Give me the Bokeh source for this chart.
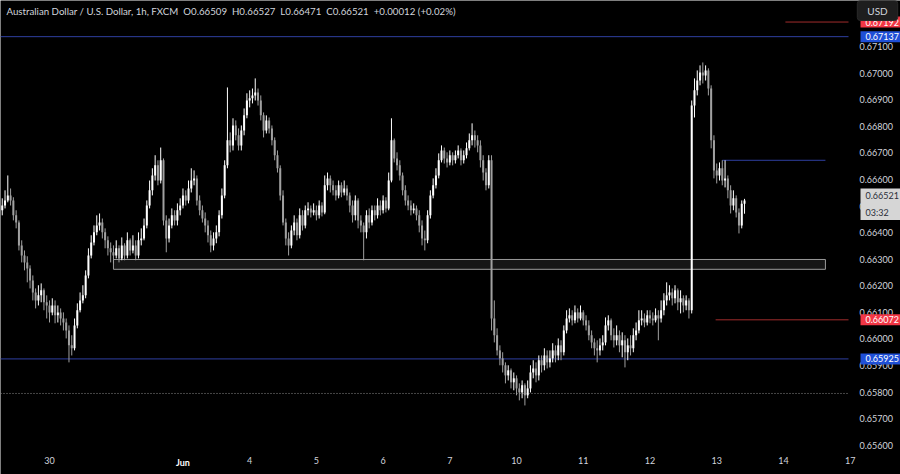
from bokeh.plotting import figure
from bokeh.models import Range1d, FixedTicker, PrintfTickFormatter, Label, ColumnDataSource
from bokeh.embed import file_html
from bokeh.resources import INLINE

# ---------------- data (AUD/USD 1h, prices in 1e-5 units) ----------------
first_bar = 7          # bar index of first visible candle (May 30 00:00 = 24)
first_open = 66484
close_pts = [
    66502, 66521, 66540, 66521, 66465, 66438, 66352, 66314, 66288, 66265,
    66220, 66175, 66145, 66164, 66183, 66138, 66126, 66100, 66126, 66089,
    66100, 66077, 66062, 66032, 65976, 65965, 66051, 66108, 66145, 66164,
    66239, 66314, 66363, 66401, 66427, 66438, 66401, 66371, 66341, 66326,
    66314, 66341, 66303, 66352, 66314, 66371, 66333, 66352, 66314, 66371,
    66378, 66427, 66502, 66559, 66615, 66653, 66596, 66672, 66446, 66378,
    66427, 66465, 66446, 66484, 66502, 66540, 66521, 66566, 66596, 66604,
    66521, 66484, 66453, 66427, 66390, 66352, 66378, 66401, 66465, 66540,
    66653, 66747, 66728, 66803, 66766, 66728, 66784, 66841, 66897, 66905,
    66916, 66927, 66897, 66841, 66784, 66822, 66792, 66747, 66691, 66642,
    66540, 66438, 66378, 66352, 66408, 66438, 66390, 66465, 66427, 66484,
    66491, 66476, 66484, 66465, 66502, 66476, 66578, 66604, 66578, 66559,
    66540, 66578, 66551, 66566, 66540, 66502, 66465, 66521, 66446, 66427,
    66401, 66465, 66438, 66484, 66465, 66502, 66484, 66521, 66491, 66596,
    66747, 66679, 66653, 66615, 66559, 66521, 66502, 66484, 66491, 66465,
    66427, 66378, 66371, 66465, 66540, 66578, 66615, 66672, 66709, 66679,
    66664, 66691, 66672, 66691, 66709, 66672, 66691, 66717, 66747, 66766,
    66747, 66728, 66672, 66626, 66578, 66672, 66077, 66014, 65957, 65927,
    65901, 65863, 65882, 65837, 65852, 65814, 65799, 65826, 65788, 65814,
    65874, 65889, 65863, 65920, 65901, 65938, 65912, 65927, 65957, 65938,
    65976, 65950, 66032, 66077, 66089, 66070, 66100, 66077, 66100, 66070,
    66051, 66014, 65987, 65965, 65957, 65976, 65987, 66051, 66070, 66014,
    65995, 66014, 65976, 65995, 65950, 65976, 65965, 66014, 66032, 66070,
    66077, 66062, 66089, 66077, 66070, 66089, 66077, 66108, 66145, 66164,
    66175, 66153, 66183, 66138, 66153, 66126, 66145, 66108, 66878, 66935,
    66972, 67002, 66991, 67010, 66942, 66747, 66634, 66615, 66642, 66596,
    66604, 66559, 66502, 66529, 66476, 66427, 66509, 66521,
]
high_pts = [
    66529, 66559, 66615, 66566, 66533, 66484, 66446, 66371, 66333, 66311,
    66277, 66239, 66190, 66202, 66209, 66190, 66164, 66145, 66153, 66145,
    66126, 66115, 66100, 66077, 66051, 66014, 66077, 66134, 66175, 66202,
    66258, 66341, 66390, 66427, 66465, 66472, 66453, 66416, 66386, 66363,
    66352, 66371, 66352, 66382, 66360, 66401, 66378, 66390, 66371, 66401,
    66416, 66453, 66521, 66596, 66642, 66691, 66672, 66720, 66679, 66465,
    66453, 66491, 66484, 66510, 66529, 66566, 66559, 66596, 66642, 66634,
    66615, 66540, 66502, 66476, 66446, 66408, 66401, 66427, 66484, 66566,
    66672, 66946, 66777, 66830, 66822, 66792, 66803, 66867, 66924, 66935,
    66942, 66980, 66942, 66916, 66852, 66841, 66833, 66803, 66758, 66709,
    66653, 66559, 66453, 66401, 66427, 66465, 66453, 66491, 66484, 66502,
    66514, 66502, 66510, 66502, 66521, 66514, 66615, 66626, 66615, 66596,
    66578, 66596, 66589, 66596, 66578, 66551, 66521, 66540, 66529, 66465,
    66438, 66484, 66491, 66502, 66502, 66529, 66521, 66540, 66533, 66626,
    66830, 66754, 66702, 66672, 66626, 66578, 66540, 66521, 66510, 66502,
    66484, 66446, 66408, 66484, 66559, 66604, 66642, 66698, 66728, 66720,
    66702, 66709, 66702, 66709, 66728, 66717, 66709, 66739, 66773, 66811,
    66784, 66766, 66747, 66691, 66642, 66691, 66691, 66145, 66040, 65976,
    65950, 65912, 65901, 65889, 65874, 65863, 65833, 65844, 65833, 65844,
    65901, 65920, 65912, 65938, 65938, 65965, 65957, 65957, 65984, 65976,
    66002, 65995, 66051, 66108, 66115, 66108, 66126, 66115, 66126, 66108,
    66089, 66070, 66032, 66002, 65995, 66002, 66014, 66081, 66089, 66077,
    66040, 66051, 66032, 66025, 66014, 66002, 66014, 66040, 66062, 66108,
    66108, 66096, 66108, 66108, 66100, 66115, 66108, 66145, 66172, 66213,
    66202, 66190, 66202, 66190, 66183, 66164, 66164, 66153, 66897, 66980,
    67010, 67029, 67040, 67029, 67018, 66954, 66766, 66660, 66664, 66672,
    66672, 66615, 66578, 66559, 66540, 66491, 66521, 66527,
]
low_pts = [
    66465, 66491, 66514, 66502, 66446, 66416, 66333, 66288, 66258, 66213,
    66190, 66145, 66115, 66126, 66138, 66108, 66077, 66062, 66089, 66059,
    66062, 66051, 66032, 66002, 65912, 65938, 65957, 66040, 66100, 66134,
    66153, 66228, 66303, 66352, 66390, 66408, 66378, 66341, 66314, 66288,
    66284, 66303, 66288, 66296, 66296, 66303, 66314, 66322, 66296, 66303,
    66352, 66371, 66416, 66491, 66540, 66596, 66578, 66585, 66427, 66326,
    66363, 66416, 66427, 66427, 66465, 66491, 66502, 66510, 66551, 66578,
    66502, 66465, 66438, 66401, 66363, 66326, 66333, 66360, 66386, 66453,
    66529, 66642, 66702, 66709, 66747, 66709, 66709, 66766, 66830, 66871,
    66886, 66897, 66878, 66822, 66758, 66773, 66773, 66728, 66672, 66626,
    66521, 66427, 66352, 66314, 66341, 66390, 66371, 66378, 66408, 66416,
    66465, 66457, 66465, 66446, 66453, 66461, 66469, 66559, 66551, 66540,
    66521, 66529, 66533, 66540, 66521, 66476, 66438, 66446, 66416, 66401,
    66296, 66378, 66416, 66427, 66446, 66453, 66465, 66472, 66476, 66484,
    66589, 66664, 66634, 66596, 66540, 66502, 66484, 66465, 66472, 66446,
    66401, 66352, 66333, 66360, 66453, 66529, 66566, 66604, 66664, 66660,
    66645, 66653, 66653, 66660, 66679, 66653, 66660, 66679, 66709, 66728,
    66720, 66702, 66645, 66596, 66559, 66566, 66032, 65987, 65938, 65901,
    65874, 65833, 65844, 65814, 65807, 65788, 65769, 65777, 65750, 65777,
    65799, 65852, 65837, 65844, 65874, 65882, 65889, 65893, 65912, 65912,
    65920, 65920, 65938, 66021, 66062, 66051, 66059, 66062, 66070, 66051,
    66032, 65995, 65965, 65938, 65912, 65938, 65957, 65976, 66032, 65995,
    65968, 65976, 65950, 65931, 65893, 65920, 65938, 65950, 65995, 66021,
    66051, 66044, 66051, 66059, 66051, 66062, 65995, 66062, 66089, 66126,
    66145, 66126, 66134, 66108, 66096, 66100, 66108, 66077, 66096, 66833,
    66916, 66954, 66961, 66972, 66916, 66717, 66604, 66585, 66596, 66578,
    66570, 66529, 66472, 66484, 66457, 66397, 66416, 66471,
]

# day labels (bar index of the first bar of each day)
day_ticks = [24, 96, 120, 144, 168, 192, 216, 240, 264, 288, 312]
day_labels = ["30", "4", "5", "6", "7", "10", "11", "12", "13", "14", "17"]
month_tick, month_label = 72, "Jun"

price_ticks = [0.656, 0.657, 0.658, 0.659, 0.660, 0.661, 0.662, 0.663,
               0.664, 0.665, 0.666, 0.667, 0.668, 0.669, 0.670, 0.671]

# drawn levels
blue_levels = [0.67137, 0.65925]
red_levels = [0.67192, 0.66072]
red_level_start = [288.7, 263.6]
swing_high = 0.66672
swing_high_span = (266.0, 303.1)
zone_top, zone_bottom = 0.66299, 0.66262
zone_span = (47.0, 303.1)
dotted_level = 0.65795

last_close = 0.66521
countdown = "03:32"
NB = "\u00a0"
title_text = NB.join(["Australian Dollar / U.S. Dollar, 1h, FXCM", "", "O0.66509", "",
                      "H0.66527", "", "L0.66471", "", "C0.66521", "", "+0.00012 (+0.02%)"])

# ---------------- build ----------------
n = len(close_pts)
xs = list(range(first_bar, first_bar + n))
opens = [first_open] + close_pts[:-1]
o = [v / 1e5 for v in opens]
c = [v / 1e5 for v in close_pts]
h = [v / 1e5 for v in high_pts]
l = [v / 1e5 for v in low_pts]
UP, DOWN = "#ffffff", "#a0a0a0"
col = [UP if cc >= oo else DOWN for oo, cc in zip(o, c)]
src = ColumnDataSource(dict(x=xs, o=o, c=c, h=h, l=l,
                            top=[max(a, b) for a, b in zip(o, c)],
                            bot=[min(a, b) for a, b in zip(o, c)], col=col))

# chart area (px 0..848 x 0..452 of the 900x474 canvas) in data units
X0, X1 = 6.37, 311.4
Y0, Y1 = 0.65573, 0.67273
RW, RH = 848.0, 452.0
W, H = 900, 474


def dx(rx):
    return X0 + rx / RW * (X1 - X0)


def dy(ry):
    return Y1 - ry / RH * (Y1 - Y0)


FONT = "Lato"
TXT = "#d1d4dc"
FS = "9px"

p = figure(width=W, height=H, x_range=Range1d(X0, dx(W)), y_range=Range1d(dy(H), Y1),
           output_backend="svg", toolbar_location=None, y_axis_location="right",
           background_fill_color="#000000", border_fill_color="#000000",
           outline_line_color=None, min_border_left=0, min_border_top=0,
           min_border_right=0, min_border_bottom=0)
p.xgrid.visible = False
p.ygrid.visible = False

# zone box
p.quad(left=[zone_span[0]], right=[zone_span[1]], top=[zone_top], bottom=[zone_bottom],
       fill_color="#161616", line_color="#9a9a9a", line_width=1)

# levels
p.segment(x0=[X0, X0], x1=[X1, X1], y0=blue_levels, y1=blue_levels,
          line_color="#2f3fa0", line_width=1)
p.segment(x0=[X0], x1=[X1], y0=[dotted_level], y1=[dotted_level],
          line_color="#8a8a8a", line_width=1, line_dash="1 2")
p.segment(x0=red_level_start, x1=[X1, X1], y0=red_levels, y1=red_levels,
          line_color="#a02c2c", line_width=1)
p.segment(x0=[swing_high_span[0]], x1=[swing_high_span[1]], y0=[swing_high],
          y1=[swing_high], line_color="#2f3fa0", line_width=1)

# candles
p.segment(x0="x", x1="x", y0="l", y1="h", line_color="col", line_width=1, source=src)
p.vbar(x="x", width=0.72, top="top", bottom="bot", fill_color="col", line_color=None,
       source=src)

# right price axis (labels drawn over the price-scale column)
ya = p.yaxis[0]
ya.ticker = FixedTicker(ticks=price_ticks)
ya.formatter = PrintfTickFormatter(format="%.5f")
ya.axis_line_color = None
ya.major_tick_line_color = None
ya.minor_tick_line_color = None
ya.major_tick_out = 0
ya.major_tick_in = 0
ya.major_label_standoff = -41
ya.major_label_text_color = TXT
ya.major_label_text_font = FONT
ya.major_label_text_font_size = FS

# bottom time axis
xa = p.xaxis[0]
xa.ticker = FixedTicker(ticks=day_ticks)
xa.major_label_overrides = {t: s for t, s in zip(day_ticks, day_labels)}
xa.axis_line_color = None
xa.major_tick_line_color = None
xa.minor_tick_line_color = None
xa.major_tick_out = 0
xa.major_tick_in = 0
xa.major_label_standoff = -18
xa.major_label_text_color = TXT
xa.major_label_text_font = FONT
xa.major_label_text_font_size = FS

p.add_layout(Label(x=month_tick, y=dy(462), text=month_label, text_align="center",
                   text_baseline="middle", text_color="#ffffff", text_font=FONT,
                   text_font_style="bold", text_font_size=FS))

# title
p.add_layout(Label(x=dx(6), y=dy(10), text=title_text, text_align="left",
                   text_baseline="middle", text_color=TXT, text_font=FONT,
                   text_font_size="9.7px"))

# price tags
TX = dx(860)
pad = dict(left=5, right=2, top=2, bottom=2)
p.add_layout(Label(x=TX, y=red_levels[0], text="%.5f" % red_levels[0],
                   text_align="left", text_baseline="middle", text_color="#ffffff",
                   text_font=FONT, text_font_size=FS, background_fill_color="#f23645",
                   padding=pad))
p.add_layout(Label(x=dx(877), y=dy(10), text="USD", text_align="center",
                   text_baseline="middle", text_color=TXT, text_font=FONT,
                   text_font_size="10px", background_fill_color="#1e1e1e",
                   border_line_color="#2a2a2a", padding=dict(left=10, right=10, top=4, bottom=4),
                   border_radius=3))
for lv in blue_levels:
    p.add_layout(Label(x=TX, y=lv, text="%.5f" % lv, text_align="left",
                       text_baseline="middle", text_color="#ffffff", text_font=FONT,
                       text_font_size=FS, background_fill_color="#1f4fd6", padding=pad))
p.add_layout(Label(x=TX, y=red_levels[1], text="%.5f" % red_levels[1],
                   text_align="left", text_baseline="middle", text_color="#ffffff",
                   text_font=FONT, text_font_size=FS, background_fill_color="#f23645",
                   padding=pad))
p.add_layout(Label(x=TX, y=last_close, y_offset=12,
                   text="%.5f\n%s" % (last_close, countdown), text_align="left",
                   text_baseline="top", text_color="#2a2e39", text_font=FONT,
                   text_font_size=FS, background_fill_color="#d6d6d6",
                   text_line_height=1.5, padding=pad))

open("out.html", "w").write(file_html(p, INLINE))
